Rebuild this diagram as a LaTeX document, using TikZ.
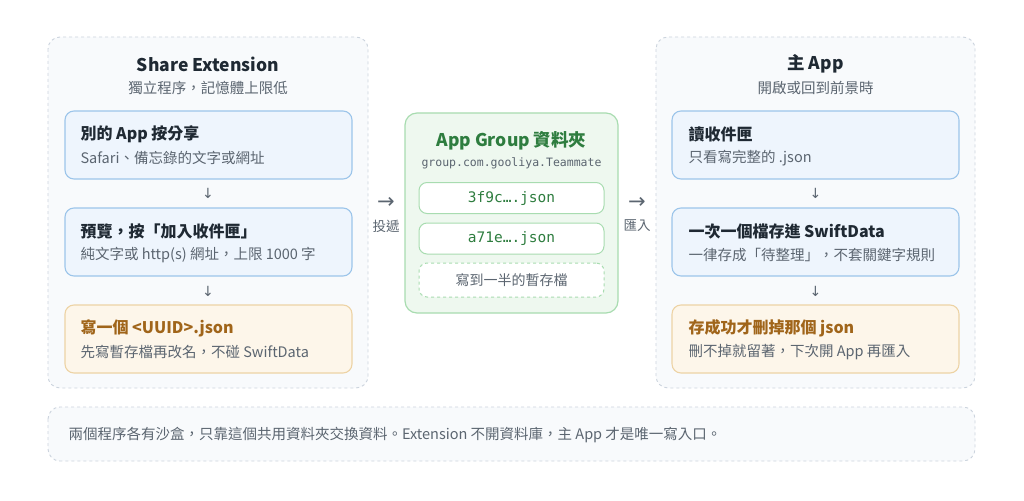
\documentclass[tikz,border=0pt]{standalone}
\usepackage{fontspec}
\setmainfont{Noto Sans CJK TC}
\newfontfamily\monof{DejaVu Sans Mono}
\newfontfamily\symf{DejaVu Sans}
\definecolor{panelbg}{HTML}{F8FAFC}
\definecolor{panelbd}{HTML}{CBD3DD}
\definecolor{bluebg}{HTML}{EEF5FD}
\definecolor{bluebd}{HTML}{9CC5EA}
\definecolor{orgbg}{HTML}{FDF6EA}
\definecolor{orgbd}{HTML}{EDD3A5}
\definecolor{orgtx}{HTML}{A0651A}
\definecolor{grnbg}{HTML}{EEF8EF}
\definecolor{grnbd}{HTML}{A8DCB0}
\definecolor{grntx}{HTML}{2E7D3F}
\definecolor{dark}{HTML}{1F2933}
\definecolor{gtx}{HTML}{5B6570}
\begin{document}
\begin{tikzpicture}[x=1pt,y=-1pt,
 panel/.style={draw=panelbd,dashed,fill=panelbg,rounded corners=12pt,line width=0.9pt},
 bbox/.style={draw=bluebd,fill=bluebg,rounded corners=9pt,line width=1.1pt},
 obox/.style={draw=orgbd,fill=orgbg,rounded corners=9pt,line width=1.1pt},
 ttl/.style={font=\fontsize{16}{18}\selectfont\bfseries,text=dark,anchor=west},
 sub/.style={font=\fontsize{14.5}{16}\selectfont,text=gtx,anchor=west},
 ptitle/.style={font=\fontsize{17.5}{19}\selectfont\bfseries,text=dark},
 psub/.style={font=\fontsize{14.5}{16}\selectfont,text=gtx},
 arr/.style={font=\symf\fontsize{14}{15}\selectfont,text=gtx},
 file/.style={draw=grnbd,fill=white,rounded corners=8pt,line width=1pt,minimum width=185pt,minimum height=31pt,font=\monof\fontsize{14.5}{15}\selectfont,text=grntx}
]
\useasboundingbox (0,0) rectangle (1024,500);
% left panel
\draw[panel] (48,37) rectangle (368,388);
\node[ptitle] (lt) at (208,64) {Share Extension};
\node[psub] (ls) at (208,88) {獨立程序，記憶體上限低};
\draw[bbox] (65,111) rectangle (352,179);
\node[ttl] (l1t) at (77,134) {別的 App 按分享};
\node[sub] (l1s) at (77,158) {Safari、備忘錄的文字或網址};
\node[arr] (la1) at (208,193) {↓};
\draw[bbox] (65,208) rectangle (352,276);
\node[ttl] (l2t) at (77,231) {預覽，按「加入收件匣」};
\node[sub] (l2s) at (77,255) {純文字或 http(s) 網址，上限 1000 字};
\node[arr] (la2) at (208,291) {↓};
\draw[obox] (65,305) rectangle (352,373);
\node[ttl,text=orgtx] (l3t) at (77,328) {寫一個 <UUID>.json};
\node[sub] (l3s) at (77,352) {先寫暫存檔再改名，不碰 SwiftData};
% arrows between
\node[arr,font=\symf\fontsize{21}{21}\selectfont] (ma) at (386,203) {→};
\node[psub,font=\fontsize{13.5}{15}\selectfont] (mal) at (386,226) {投遞};
\node[arr,font=\symf\fontsize{21}{21}\selectfont] (mb) at (637,203) {→};
\node[psub,font=\fontsize{13.5}{15}\selectfont] (mbl) at (637,226) {匯入};
% middle
\draw[draw=grnbd,fill=grnbg,rounded corners=12pt,line width=1.2pt] (405,113) rectangle (618,313);
\node[ptitle,text=grntx] (gt) at (511.5,141) {App Group 資料夾};
\node[font=\monof\fontsize{11.5}{13}\selectfont,text=gtx] (gs) at (511.5,163) {group.com.gooliya.Teammate};
\node[file] (f1) at (511.5,198) {3f9c….json};
\node[file] (f2) at (511.5,238.5) {a71e….json};
\node[file,dashed,font=\fontsize{14}{15}\selectfont,text=gtx,minimum height=34pt] (f3) at (511.5,280) {寫到一半的暫存檔};
% right panel
\draw[panel] (656,37) rectangle (975,388);
\node[ptitle] (rt) at (815.5,64) {主 App};
\node[psub] (rs) at (815.5,88) {開啟或回到前景時};
\draw[bbox] (672,111) rectangle (959,179);
\node[ttl] (r1t) at (685,134) {讀收件匣};
\node[sub] (r1s) at (685,158) {只看寫完整的 .json};
\node[arr] (ra1) at (815.5,193) {↓};
\draw[bbox] (672,208) rectangle (959,276);
\node[ttl] (r2t) at (685,231) {一次一個檔存進 SwiftData};
\node[sub] (r2s) at (685,255) {一律存成「待整理」，不套關鍵字規則};
\node[arr] (ra2) at (815.5,291) {↓};
\draw[obox] (672,305) rectangle (959,373);
\node[ttl,text=orgtx] (r3t) at (685,328) {存成功才刪掉那個 json};
\node[sub] (r3s) at (685,352) {刪不掉就留著，下次開 App 再匯入};
% bottom
\draw[panel] (48,407) rectangle (975,461);
\node[sub,font=\fontsize{14.5}{16}\selectfont] (note) at (65,435) {兩個程序各有沙盒，只靠這個共用資料夾交換資料。Extension 不開資料庫，主 App 才是唯一寫入口。};
\end{tikzpicture}
\end{document}
